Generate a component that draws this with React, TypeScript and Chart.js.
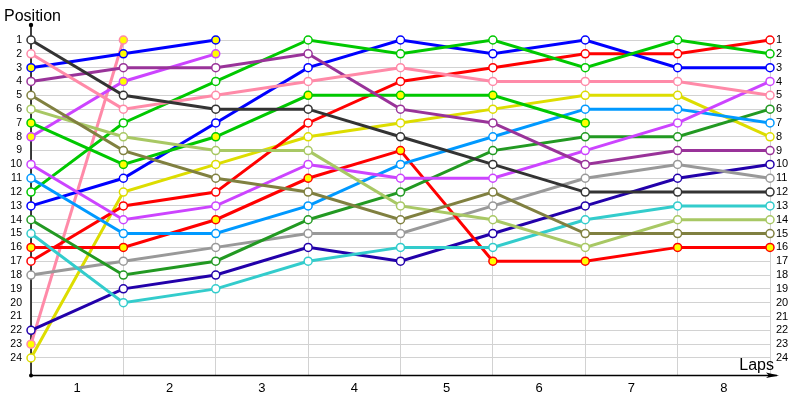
import React, { useEffect, useRef } from "react";
import { Chart, registerables } from "chart.js";

Chart.register(...registerables);

// laps (0 = grid) and the labels shown between gridlines
const laps = [0, 1, 2, 3, 4, 5, 6, 7, 8];
const lapLabels = ["1", "2", "3", "4", "5", "6", "7", "8"];
const positionTicks = Array.from({ length: 24 }, (_, i) => i + 1);

// positions per lap (null = retired)
const darkGray = [1, 5, 6, 6, 8, 10, 12, 12, 12];
const pinkW = [2, 6, 5, 4, 3, 4, 4, 4, 5];
const blueY = [3, 2, 1, null, null, null, null, null, null];
const purple = [4, 3, 3, 2, 6, 7, 10, 9, 9];
const olive = [5, 9, 11, 12, 14, 12, 15, 15, 15];
const lightGreen = [6, 8, 9, 9, 13, 14, 16, 14, 14];
const greenY = [7, 10, 8, 5, 5, 5, 7, null, null];
const violetY = [8, 4, 2, null, null, null, null, null, null];
const violetW = [10, 14, 13, 10, 11, 11, 9, 7, 4];
const lightBlue = [11, 15, 15, 13, 10, 8, 6, 6, 7];
const greenW = [12, 7, 4, 1, 2, 1, 3, 1, 2];
const blueW = [13, 11, 7, 3, 1, 2, 1, 3, 3];
const darkGreen = [14, 18, 17, 14, 12, 9, 8, 8, 6];
const cyan = [15, 20, 19, 17, 16, 16, 14, 13, 13];
const redY = [16, 16, 14, 11, 9, 17, 17, 16, 16];
const redW = [17, 13, 12, 7, 4, 3, 2, 2, 1];
const gray = [18, 17, 16, 15, 15, 13, 11, 10, 11];
const darkBlue = [22, 19, 18, 16, 17, 15, 13, 11, 10];
const pinkY = [23, 1, null, null, null, null, null, null, null];
const yellow = [24, 12, 10, 8, 7, 6, 5, 5, 8];

const seriesData = [
  darkGray, pinkW, blueY, purple, olive, lightGreen, greenY, violetY, violetW, lightBlue,
  greenW, blueW, darkGreen, cyan, redY, redW, gray, darkBlue, pinkY, yellow,
];
// styles: [line colour, point fill]
const seriesStyle: [string, string][] = [
  ["#333333", "#ffffff"],
  ["#ff8aa8", "#ffffff"],
  ["#0000ff", "#ffff00"],
  ["#993399", "#ffffff"],
  ["#808040", "#ffffff"],
  ["#a8c864", "#ffffff"],
  ["#00c800", "#ffff00"],
  ["#cc44ff", "#ffff00"],
  ["#cc44ff", "#ffffff"],
  ["#0099ff", "#ffffff"],
  ["#00c800", "#ffffff"],
  ["#0000ff", "#ffffff"],
  ["#229922", "#ffffff"],
  ["#33cccc", "#ffffff"],
  ["#ff0000", "#ffff00"],
  ["#ff0000", "#ffffff"],
  ["#999999", "#ffffff"],
  ["#2200aa", "#ffffff"],
  ["#ff8aa8", "#ffff00"],
  ["#dddd00", "#ffffff"],
];

const FONT = "'Liberation Sans', Arial, sans-serif";

const decor = {
  id: "decor",
  beforeDatasetsDraw(chart: any) {
    const { ctx, chartArea } = chart;
    const l = chartArea.left;
    const b = chartArea.bottom;
    ctx.save();
    ctx.strokeStyle = "#000";
    ctx.fillStyle = "#000";
    ctx.lineWidth = 1.5;
    ctx.beginPath();
    ctx.moveTo(l, 25);
    ctx.lineTo(l, b);
    ctx.stroke();
    ctx.beginPath();
    ctx.moveTo(l, b + 0.5);
    ctx.lineTo(770, b + 0.5);
    ctx.stroke();
    ctx.beginPath();
    ctx.moveTo(766, b - 2.5);
    ctx.lineTo(779, b + 0.5);
    ctx.lineTo(766, b + 3);
    ctx.lineTo(769, b + 0.5);
    ctx.closePath();
    ctx.fill();
    ctx.beginPath();
    ctx.moveTo(769, b + 0.5);
    ctx.lineTo(777, b + 0.5);
    ctx.stroke();
    ctx.beginPath();
    ctx.arc(l, 25, 2.2, 0, Math.PI * 2);
    ctx.fill();
    ctx.beginPath();
    ctx.arc(l, b + 0.5, 2, 0, Math.PI * 2);
    ctx.fill();
    ctx.restore();
  },
  afterDraw(chart: any) {
    const { ctx } = chart;
    ctx.save();
    ctx.fillStyle = "#000";
    ctx.font = `16px ${FONT}`;
    ctx.textBaseline = "alphabetic";
    ctx.textAlign = "left";
    ctx.fillText("Position", 4, 21);
    ctx.textAlign = "right";
    ctx.fillText("Laps", 774, 370);
    ctx.restore();
  },
};

export default function App() {
  const ref = useRef<HTMLCanvasElement>(null);
  useEffect(() => {
    document.body.style.margin = "0";
    const canvas = ref.current!;
    const datasets = seriesData.map((d, i) => ({
      label: "s" + i,
      data: laps.map((x, j) => ({ x, y: d[j] })),
      borderColor: seriesStyle[i][0],
      backgroundColor: seriesStyle[i][1],
      pointBackgroundColor: seriesStyle[i][1],
      pointBorderColor: seriesStyle[i][0],
      pointRadius: 4,
      pointBorderWidth: 1.5,
      borderWidth: 3,
      tension: 0,
      spanGaps: false,
      clip: false as any,
      yAxisID: "y",
    }));
    const tickColor = "#000";
    const chart = new Chart(canvas, {
      type: "line",
      data: { datasets },
      options: {
        animation: false,
        responsive: false,
        layout: { padding: { top: 40, left: 0, right: 0, bottom: 0 } },
        plugins: { legend: { display: false }, tooltip: { enabled: false }, title: { display: false } },
        scales: {
          x: {
            type: "linear",
            min: 0,
            max: 8,
            afterBuildTicks: (axis: any) => {
              const t: any[] = [];
              for (let i = 0; i <= 16; i++) t.push({ value: i / 2 });
              axis.ticks = t;
            },
            afterFit: (s: any) => {
              s.height = 25;
            },
            ticks: {
              autoSkip: false,
              maxRotation: 0,
              padding: 6,
              color: tickColor,
              font: { family: FONT, size: 13 },
              callback: (v: any) => {
                const n = Number(v);
                if (Math.abs(n % 1 - 0.5) < 1e-6) return lapLabels[Math.floor(n)];
                return "";
              },
            },
            grid: {
              drawTicks: false,
              color: (c: any) => (c.tick && Math.abs(c.tick.value % 1) < 1e-6 ? "#d2d2d2" : "rgba(0,0,0,0)"),
              lineWidth: 1,
            },
            border: { display: false },
          },
          y: {
            type: "linear",
            position: "left",
            reverse: true,
            min: 1,
            max: 25.23,
            afterBuildTicks: (axis: any) => {
              axis.ticks = positionTicks.map((v) => ({ value: v }));
            },
            afterFit: (s: any) => {
              s.width = 31;
            },
            ticks: {
              autoSkip: false,
              padding: 9,
              color: tickColor,
              font: { family: FONT, size: 10.5 },
            },
            grid: { drawTicks: false, color: "#d2d2d2", lineWidth: 1 },
            border: { display: false },
          },
          y2: {
            type: "linear",
            position: "right",
            reverse: true,
            min: 1,
            max: 25.23,
            afterBuildTicks: (axis: any) => {
              axis.ticks = positionTicks.map((v) => ({ value: v }));
            },
            afterFit: (s: any) => {
              s.width = 30;
            },
            ticks: {
              autoSkip: false,
              padding: 6,
              color: tickColor,
              font: { family: FONT, size: 11 },
            },
            grid: { display: false, drawTicks: false },
            border: { display: false },
          },
        },
      },
      plugins: [decor],
    });
    return () => chart.destroy();
  }, []);
  return <canvas ref={ref} width={800} height={400} style={{ display: "block", width: 800, height: 400 }} />;
}
